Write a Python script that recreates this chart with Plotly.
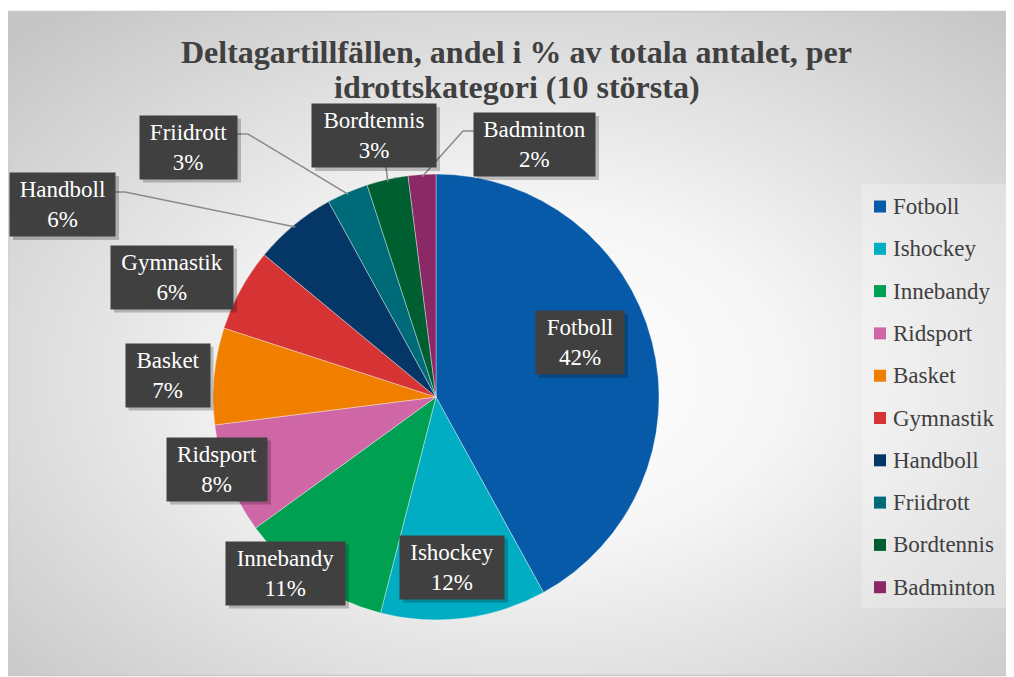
import math, base64
import plotly.graph_objects as go

# ---------------- data ----------------
categories = ["Fotboll", "Ishockey", "Innebandy", "Ridsport", "Basket",
              "Gymnastik", "Handboll", "Friidrott", "Bordtennis", "Badminton"]
shares = [42, 12, 11, 8, 7, 6, 6, 3, 3, 2]
label_texts = [f"{c}<br>{v}%" for c, v in zip(categories, shares)]
title_lines = ["Deltagartillfällen, andel i % av totala antalet, per",
               "idrottskategori (10 största)"]

# ---------------- style ----------------
colors = ["#075aa8", "#00adc3", "#00a052", "#cf67a6", "#f07f00",
          "#d63335", "#053766", "#006b78", "#005f31", "#8a2966"]
OFF = 8                      # page body margin
W, H = 1014 - OFF, 677 - OFF
FONT = "Liberation Serif, Times New Roman, serif"

# pie geometry (window pixels)
CX, CY, R = 436, 397, 223

# label boxes: centre (px), width (px), height
box_pos = [(580, 342.5), (452, 567), (285.5, 573), (217, 469), (167.5, 375),
           (172, 277), (62.5, 204.5), (188.5, 147), (374, 135.5), (534.5, 144.5)]
box_w = [88, 104, 119, 100, 84, 122, 105, 97, 124, 121]
box_h = 63

# leader line start & elbow points for outside labels (index -> list of px points)
leader_pts = {6: [(115, 192), (125, 192)],
              7: [(237, 134), (248, 134)],
              8: [(386, 167)],
              9: [(474, 131), (463, 131)]}


def px(x):
    return (x - OFF) / W


def py(y):
    return 1 - (y - OFF) / H


# background gradient as SVG image (in figure pixel space)
bx0, by0 = 7.5 - OFF, 11.5 - OFF
svg = f'''<svg xmlns="http://www.w3.org/2000/svg" width="{W}" height="{H}" viewBox="0 0 {W} {H}">
<defs><radialGradient id="g" cx="0.52" cy="0.55" r="0.72">
<stop offset="0" stop-color="#ffffff"/><stop offset="0.35" stop-color="#f6f6f6"/>
<stop offset="1" stop-color="#c6c6c6"/></radialGradient></defs>
<rect x="0" y="0" width="{W}" height="{H}" fill="#ffffff"/>
<rect x="{bx0}" y="{by0}" width="1002" height="664" fill="url(#g)" stroke="#c8c8c8" stroke-width="1.5"/>
</svg>'''
svg_uri = "data:image/svg+xml;base64," + base64.b64encode(svg.encode()).decode()

fig = go.Figure()
fig.add_trace(go.Pie(
    labels=categories, values=shares, sort=False, direction="clockwise", rotation=0,
    marker=dict(colors=colors, line=dict(color="rgba(255,255,255,0.6)", width=0.6)),
    textinfo="none", hoverinfo="label+percent", showlegend=False,
    domain=dict(x=[px(CX - R), px(CX + R)], y=[py(CY + R), py(CY - R)]),
))

shapes = []
annotations = []

# slice mid angles from the data
total = sum(shares)
cum = 0
mids = []
for v in shares:
    mids.append((cum + v / 2) / total * 2 * math.pi)
    cum += v

# leader lines
for i, pts in leader_pts.items():
    a = mids[i]
    ex, ey = CX + 0.99 * R * math.sin(a), CY - 0.99 * R * math.cos(a)
    allp = pts + [(ex, ey)]
    path = "M " + " L ".join(f"{px(x)},{py(y)}" for x, y in allp)
    shapes.append(dict(type="path", xref="paper", yref="paper", path=path,
                       line=dict(color="#8a8a8a", width=1.5)))

# label boxes with shadows
for (bx, by), bw, t in zip(box_pos, box_w, label_texts):
    shapes.append(dict(type="rect", xref="paper", yref="paper",
                       x0=px(bx - bw / 2 + 3), x1=px(bx + bw / 2 + 4),
                       y0=py(by + box_h / 2 + 4), y1=py(by - box_h / 2 + 3),
                       fillcolor="rgba(0,0,0,0.22)", line=dict(width=0), layer="above"))
    annotations.append(dict(x=px(bx), y=py(by), xref="paper", yref="paper",
                            text=t, showarrow=False, xanchor="center", yanchor="middle",
                            width=bw - 4, height=box_h - 4, borderpad=2, align="center",
                            bgcolor="#404040", font=dict(family=FONT, size=23, color="#ffffff")))

# manual legend
LX0, LY0, LX1, LY1 = 862, 184, 1009, 608
shapes.append(dict(type="rect", xref="paper", yref="paper", x0=px(LX0), x1=px(LX1),
                   y0=py(LY1), y1=py(LY0), fillcolor="rgba(255,255,255,0.25)",
                   line=dict(width=0), layer="below"))
first_y, step = 206.5, 42.3
for i, (c, col) in enumerate(zip(categories, colors)):
    yc = first_y + i * step
    shapes.append(dict(type="rect", xref="paper", yref="paper",
                       x0=px(874), x1=px(886), y0=py(yc + 6), y1=py(yc - 6),
                       fillcolor=col, line=dict(width=0)))
    annotations.append(dict(x=px(891), y=py(yc), xref="paper", yref="paper", text=c,
                            showarrow=False, xanchor="left", yanchor="middle",
                            font=dict(family=FONT, size=23, color="#404040")))

# title (two lines, tight spacing)
for line, yc in zip(title_lines, [52, 87]):
    annotations.append(dict(x=px(517), y=py(yc), xref="paper", yref="paper",
                            text=f"<b>{line}</b>", showarrow=False,
                            xanchor="center", yanchor="middle",
                            font=dict(family=FONT, size=32, color="#404040")))

fig.update_layout(
    width=W, height=H, margin=dict(l=0, r=0, t=0, b=0),
    paper_bgcolor="#ffffff", plot_bgcolor="rgba(0,0,0,0)",
    shapes=shapes, annotations=annotations,
    images=[dict(source=svg_uri, xref="paper", yref="paper", x=0, y=1, sizex=1, sizey=1,
                 sizing="stretch", xanchor="left", yanchor="top", layer="below")],
)
fig.write_html("out.html")
